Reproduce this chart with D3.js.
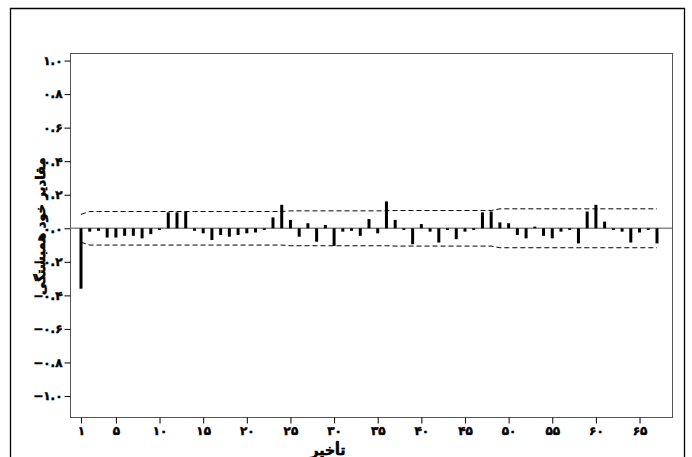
<!DOCTYPE html>
<html>
<head>
<meta charset="utf-8">
<script src="https://cdn.jsdelivr.net/npm/d3@7"></script>
<style>
  html, body { margin: 0; padding: 0; background: #fff; }
  svg { display: block; }
  text { font-family: "DejaVu Sans", "Noto Sans", sans-serif; font-weight: bold; fill: #000; }
</style>
</head>
<body>
<svg id="chart" width="692" height="457"></svg>
<script>
// ---- data ----
const lags = d3.range(1, 68);
const acfValues = [
  -0.36, -0.02, -0.015, -0.055, -0.055, -0.045, -0.045, -0.06, -0.035, -0.01,
  0.095, 0.095, 0.1, -0.015, -0.03, -0.07, -0.04, -0.05, -0.04, -0.03,
  -0.025, -0.01, 0.065, 0.14, 0.05, -0.05, 0.03, -0.08, 0.02, -0.105,
  -0.02, -0.015, -0.045, 0.055, -0.03, 0.16, 0.05, -0.01, -0.095, 0.025,
  -0.02, -0.085, -0.01, -0.065, -0.02, -0.01, 0.095, 0.1, 0.035, 0.03,
  -0.04, -0.06, 0.01, -0.045, -0.06, -0.02, -0.01, -0.09, 0.1, 0.14,
  0.04, -0.01, -0.02, -0.085, -0.025, -0.01, -0.09
];
const confLimit = [
  0.083, 0.1, 0.1, 0.1, 0.1, 0.1, 0.1, 0.1, 0.1, 0.1,
  0.1, 0.1, 0.1, 0.1, 0.1, 0.1, 0.1, 0.1, 0.1, 0.1,
  0.1, 0.1, 0.1, 0.1, 0.104, 0.104, 0.104, 0.104, 0.104, 0.104,
  0.104, 0.104, 0.104, 0.104, 0.104, 0.104, 0.106, 0.106, 0.106, 0.106,
  0.106, 0.106, 0.106, 0.106, 0.106, 0.106, 0.106, 0.106, 0.116, 0.116,
  0.116, 0.116, 0.116, 0.116, 0.116, 0.116, 0.116, 0.116, 0.116, 0.116,
  0.116, 0.116, 0.116, 0.116, 0.116, 0.116, 0.116
];
const xTickValues = [1, 5, 10, 15, 20, 25, 30, 35, 40, 45, 50, 55, 60, 65];
const yTickValues = [1.0, 0.8, 0.6, 0.4, 0.2, 0.0, -0.2, -0.4, -0.6, -0.8, -1.0];
const xTitle = "تأخیر";
const yTitle = "مقادیر خود همبستگی";

// ---- helpers ----
const faDigits = "۰۱۲۳۴۵۶۷۸۹";
const toFa = s => String(s).replace(/[0-9]/g, d => faDigits[+d]).replace("-", "\u2212");

const svg = d3.select("#chart");
const L = 70, R = 672, T = 53, B = 417;

const x = d3.scaleLinear().domain([-0.26, 68.72]).range([L, R]);
const y = d3.scaleLinear().domain([-1.125, 1.045]).range([B, T]);

// outer frame
svg.append("path")
  .attr("d", `M10.5,470 L10.5,8.5 L684.5,8.5 L684.5,470`)
  .attr("fill", "none").attr("stroke", "#000").attr("stroke-width", 1.3);

// plot frame
svg.append("rect")
  .attr("x", L + 0.5).attr("y", T + 0.5)
  .attr("width", R - L).attr("height", B - T)
  .attr("fill", "none").attr("stroke", "#555").attr("stroke-width", 1);

// zero line
svg.append("line")
  .attr("x1", L).attr("x2", R)
  .attr("y1", y(0)).attr("y2", y(0))
  .attr("stroke", "#8a8a8a").attr("stroke-width", 1.6);

// bars
svg.append("g").selectAll("rect")
  .data(lags)
  .join("rect")
  .attr("x", d => x(d) - 1.5)
  .attr("width", 3)
  .attr("y", (d, i) => y(Math.max(0, acfValues[i])))
  .attr("height", (d, i) => Math.abs(y(acfValues[i]) - y(0)))
  .attr("fill", "#000");

// confidence limits
const upper = d3.line().x(d => x(d)).y((d, i) => y(confLimit[i]));
const lower = d3.line().x(d => x(d)).y((d, i) => y(-confLimit[i]));
[upper, lower].forEach(gen => {
  svg.append("path")
    .attr("d", gen(lags))
    .attr("fill", "none")
    .attr("stroke", "#000")
    .attr("stroke-width", 1)
    .attr("stroke-dasharray", "5,3");
});

// y axis
const yAxis = d3.axisLeft(y).tickValues(yTickValues).tickSize(6).tickPadding(2)
  .tickFormat(d => toFa(d3.format(".1f")(d)));
const gy = svg.append("g").attr("transform", `translate(${L + 0.5},0)`).call(yAxis);
gy.select(".domain").remove();
gy.selectAll(".tick line").attr("stroke", "#000");
gy.selectAll(".tick text").attr("font-size", 12).attr("font-family", "DejaVu Sans")
  .attr("font-weight", "bold").attr("stroke", "#000").attr("stroke-width", 0.5);

// x axis
const xAxis = d3.axisBottom(x).tickValues(xTickValues).tickSize(6).tickPadding(3)
  .tickFormat(d => toFa(d));
const gx = svg.append("g").attr("transform", `translate(0,${B + 0.5})`).call(xAxis);
gx.select(".domain").remove();
gx.selectAll(".tick line").attr("stroke", "#000");
gx.selectAll(".tick text").attr("font-size", 12).attr("font-family", "DejaVu Sans")
  .attr("font-weight", "bold").attr("stroke", "#000").attr("stroke-width", 0.5);

// titles
svg.append("text")
  .attr("x", 328).attr("y", 455)
  .attr("text-anchor", "middle")
  .attr("font-size", 14)
  .attr("stroke", "#000").attr("stroke-width", 0.6)
  .text(xTitle);

svg.append("text")
  .attr("transform", `translate(45,${y(0) - 2}) rotate(-90)`)
  .attr("text-anchor", "middle")
  .attr("font-size", 13)
  .attr("stroke", "#000").attr("stroke-width", 0.6)
  .text(yTitle);
</script>
</body>
</html>
